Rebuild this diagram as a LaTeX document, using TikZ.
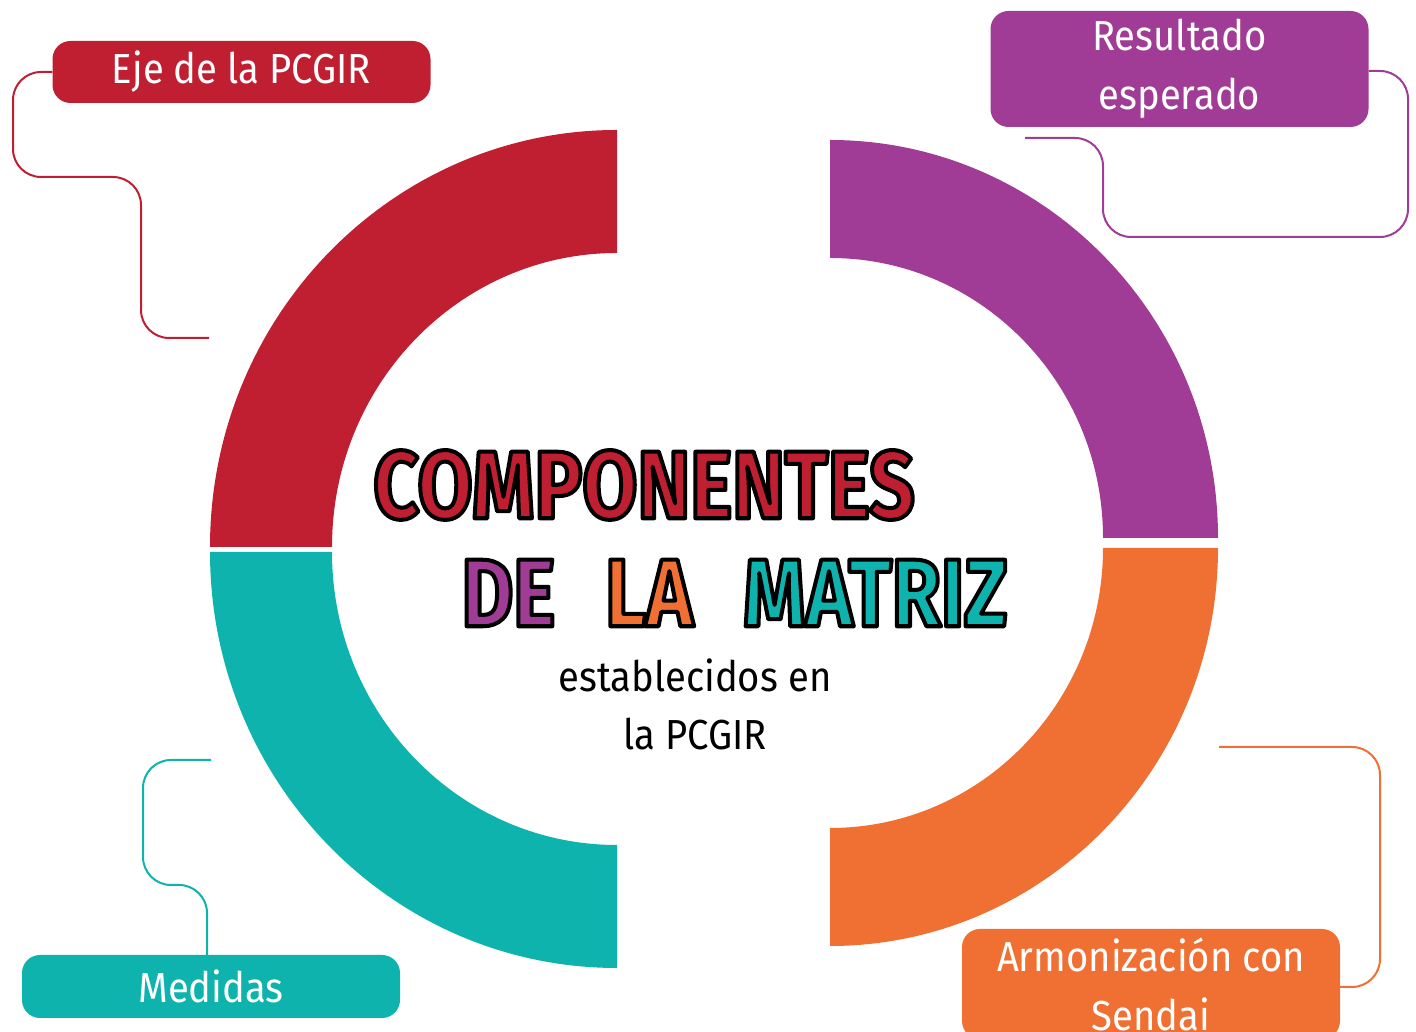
\documentclass[tikz,border=0pt]{standalone}
\usepackage{fontspec}
\setmainfont{Fira Sans}[FakeStretch=0.91]
\newfontfamily\titlefont{Fira Sans}[FakeStretch=0.83]
\definecolor{pcred}{HTML}{C01F32}
\definecolor{pcpurple}{HTML}{A03C95}
\definecolor{pcteal}{HTML}{0FB3AD}
\definecolor{pcorange}{HTML}{F07033}
\newcommand\inked[2]{{\color{#1}\special{pdf:code 0 0 0 RG 2 Tr 4 w 1 j}#2\special{pdf:code 0 Tr}}}
\tikzset{
  tag/.style={rounded corners=18pt, minimum width=378pt, text=white, align=center, inner sep=0pt, font=\fontsize{42}{59}\selectfont},
  link/.style={line width=2pt, rounded corners=28pt},
  title/.style={font=\titlefont\bfseries\fontsize{96}{96}\selectfont},
}

\begin{document}
\begin{tikzpicture}[x=1pt,y=1pt]
\useasboundingbox (0,0) rectangle (1416,1032);
\fill[pcred] (210,485) arc[start angle=180,end angle=90,x radius=407pt,y radius=417pt] -- (617,779) arc[start angle=90,end angle=180,x radius=285pt,y radius=294pt] -- cycle;
\fill[pcteal] (210,480) arc[start angle=180,end angle=270,x radius=407pt,y radius=416pt] -- (617,187) arc[start angle=270,end angle=180,x radius=285pt,y radius=293pt] -- cycle;
\fill[pcpurple] (830,892) arc[start angle=90,end angle=0,x radius=388pt,y radius=398pt] -- (1103,494) arc[start angle=0,end angle=90,x radius=273pt,y radius=280pt] -- cycle;
\fill[pcorange] (1218,484) arc[start angle=0,end angle=-90,x radius=388pt,y radius=398pt] -- (830,204) arc[start angle=-90,end angle=0,x radius=273pt,y radius=280pt] -- cycle;

\node[tag, fill=pcred, minimum height=62pt] (eje) at (241.5,960) {Eje de la PCGIR};
\node[tag, fill=pcpurple, minimum height=116pt] (res) at (1179.5,963) {Resultado\\esperado};
\node[tag, fill=pcteal, minimum height=63pt] (med) at (211,45.5) {Medidas};
\node[tag, fill=pcorange, minimum height=110pt] (arm) at (1151,48) {Armonización con\\Sendai};

\coordinate (ejeend) at (209,694);
\coordinate (resend) at (1025,894);
\coordinate (medend) at (211,272);
\coordinate (armend) at (1219,285);
\draw[link, pcred] (eje.west) -| (13,855) -| (141,694) -- (ejeend);
\draw[link, pcpurple] ([yshift=-2pt]res.east) -| (1408,795) -| (1103,894) -- (resend);
\draw[link, pcteal] ([xshift=-4pt]med.north) |- (143,147) |- (medend);
\draw[link, pcorange] ([yshift=-3pt]arm.east) -| (1380,285) -- (armend);

\node[title] (tit) at (644,547) {\inked{pcred}{COMPONENTES}};
\node[title] (sub) at (734.5,439) {\inked{pcpurple}{DE}\hspace{50pt}\inked{pcorange}{LA}\hspace{50pt}\inked{pcteal}{MATRIZ}};
\node[font=\fontsize{42}{58}\selectfont, align=center] (est) at (695,328) {establecidos en\\la PCGIR};
\end{tikzpicture}
\end{document}
